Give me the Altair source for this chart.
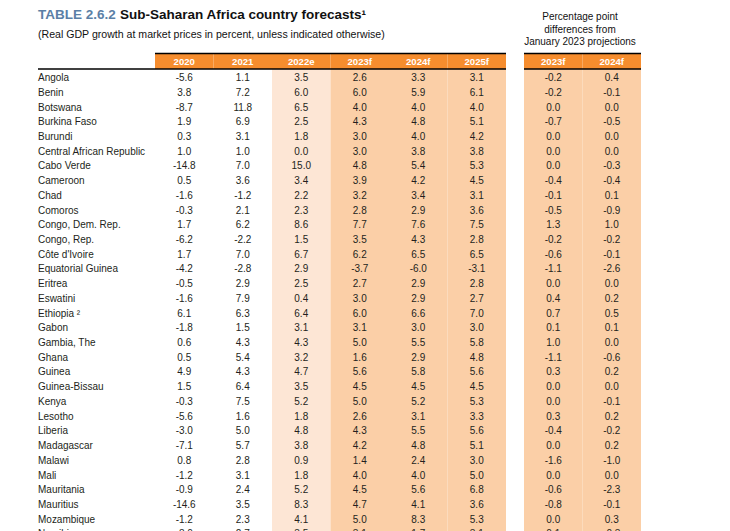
import altair as alt
import pandas as pd

countries = ["Angola", "Benin", "Botswana", "Burkina Faso", "Burundi",
             "Central African Republic", "Cabo Verde", "Cameroon", "Chad", "Comoros",
             "Congo, Dem. Rep.", "Congo, Rep.", "Côte d'Ivoire", "Equatorial Guinea",
             "Eritrea", "Eswatini", "Ethiopia ²", "Gabon", "Gambia, The", "Ghana",
             "Guinea", "Guinea-Bissau", "Kenya", "Lesotho", "Liberia", "Madagascar",
             "Malawi", "Mali", "Mauritania", "Mauritius", "Mozambique", "Namibia"]

v2020 = [-5.6, 3.8, -8.7, 1.9, 0.3, 1.0, -14.8, 0.5, -1.6, -0.3, 1.7, -6.2, 1.7, -4.2, -0.5, -1.6,
         6.1, -1.8, 0.6, 0.5, 4.9, 1.5, -0.3, -5.6, -3.0, -7.1, 0.8, -1.2, -0.9, -14.6, -1.2, -8.0]
v2021 = [1.1, 7.2, 11.8, 6.9, 3.1, 1.0, 7.0, 3.6, -1.2, 2.1, 6.2, -2.2, 7.0, -2.8, 2.9, 7.9,
         6.3, 1.5, 4.3, 5.4, 4.3, 6.4, 7.5, 1.6, 5.0, 5.7, 2.8, 3.1, 2.4, 3.5, 2.3, 2.7]
v2022e = [3.5, 6.0, 6.5, 2.5, 1.8, 0.0, 15.0, 3.4, 2.2, 2.3, 8.6, 1.5, 6.7, 2.9, 2.5, 0.4,
          6.4, 3.1, 4.3, 3.2, 4.7, 3.5, 5.2, 1.8, 4.8, 3.8, 0.9, 1.8, 5.2, 8.3, 4.1, 3.5]
v2023f = [2.6, 6.0, 4.0, 4.3, 3.0, 3.0, 4.8, 3.9, 3.2, 2.8, 7.7, 3.5, 6.2, -3.7, 2.7, 3.0,
          6.0, 3.1, 5.0, 1.6, 5.6, 4.5, 5.0, 2.6, 4.3, 4.2, 1.4, 4.0, 4.5, 4.7, 5.0, 3.1]
v2024f = [3.3, 5.9, 4.0, 4.8, 4.0, 3.8, 5.4, 4.2, 3.4, 2.9, 7.6, 4.3, 6.5, -6.0, 2.9, 2.9,
          6.6, 3.0, 5.5, 2.9, 5.8, 4.5, 5.2, 3.1, 5.5, 4.8, 2.4, 4.0, 5.6, 4.1, 8.3, 1.7]
v2025f = [3.1, 6.1, 4.0, 5.1, 4.2, 3.8, 5.3, 4.5, 3.1, 3.6, 7.5, 2.8, 6.5, -3.1, 2.8, 2.7,
          7.0, 3.0, 5.8, 4.8, 5.6, 4.5, 5.3, 3.3, 5.6, 5.1, 3.0, 5.0, 6.8, 3.6, 5.3, 3.1]
d2023f = [-0.2, -0.2, 0.0, -0.7, 0.0, 0.0, 0.0, -0.4, -0.1, -0.5, 1.3, -0.2, -0.6, -1.1, 0.0, 0.4,
          0.7, 0.1, 1.0, -1.1, 0.3, 0.0, 0.0, 0.3, -0.4, 0.0, -1.6, 0.0, -0.6, -0.8, 0.0, 0.1]
d2024f = [0.4, -0.1, 0.0, -0.5, 0.0, 0.0, -0.3, -0.4, 0.1, -0.9, 1.0, -0.2, -0.1, -2.6, 0.0, 0.2,
          0.5, 0.1, 0.0, -0.6, 0.2, 0.0, -0.1, 0.2, -0.2, 0.2, -1.0, 0.0, -2.3, -0.1, 0.3, -0.3]

left_cols = ["2020", "2021", "2022e", "2023f", "2024f", "2025f"]
left_vals = [v2020, v2021, v2022e, v2023f, v2024f, v2025f]
left_shade = {"2022e": "light", "2023f": "dark", "2024f": "dark", "2025f": "dark"}
right_cols = ["d2023f", "d2024f"]
right_labels = ["2023f", "2024f"]
right_vals = [d2023f, d2024f]

ORANGE = "#F68D2E"
LIGHT = "#FDE6D5"
DARK = "#FBCFA7"
TXT = "#231F20"
FONT = "Liberation Sans"
BAND = 14.72

rows = ["_hdr"] + countries
ys = alt.Scale(domain=rows, paddingInner=0, paddingOuter=0)
xs_left = alt.Scale(domain=["_name", "_name2"] + left_cols, paddingInner=0, paddingOuter=0)
xs_right = alt.Scale(domain=right_cols, paddingInner=0, paddingOuter=0)

HDR_SHIFT = -2.45   # header top sits a little above its band
HDR_BOT = 0.887
BG_SHIFT = -1.67


def fmt(v):
    return f"{v:.1f}"


def panel(cols, labels, vals, shade, xs, with_names):
    cells = pd.DataFrame([
        {"col": c, "row": r, "txt": fmt(v)}
        for c, vs in zip(cols, vals) for r, v in zip(countries, vs)
    ])
    bg = pd.DataFrame([
        {"col": c, "shade": shade[c], "r0": countries[0], "r1": countries[-1]}
        for c in cols if c in shade
    ])
    hdr = pd.DataFrame({"col": cols, "label": labels, "row": "_hdr"})
    line = pd.DataFrame({"col": [cols[0]], "row": ["_hdr"]})

    layers = []
    layers.append(alt.Chart(bg).mark_rect(yOffset=BG_SHIFT).encode(
        x=alt.X("col:N", scale=xs, axis=None),
        y=alt.Y("r0:N", scale=ys, axis=None, bandPosition=0),
        y2=alt.Y2("r1:N", bandPosition=1),
        color=alt.Color("shade:N", scale=alt.Scale(domain=["light", "dark"], range=[LIGHT, DARK]), legend=None),
    ))
    layers.append(alt.Chart(hdr).mark_rect(color=ORANGE, yOffset=HDR_SHIFT).encode(
        x=alt.X("col:N", scale=xs, axis=None),
        y=alt.Y("row:N", scale=ys, axis=None, bandPosition=0),
        y2=alt.Y2("row:N", bandPosition=HDR_BOT),
    ))
    layers.append(alt.Chart(hdr).mark_text(font=FONT, fontSize=9.6, fontWeight="bold", color="white",
                                           baseline="middle").encode(
        x=alt.X("col:N", scale=xs, axis=None),
        y=alt.Y("row:N", scale=ys, axis=None, bandPosition=0.43),
        text="label:N",
    ))
    layers.append(alt.Chart(line).mark_rule(color="black", strokeWidth=1.5, yOffset=HDR_SHIFT).encode(
        x=alt.X("col:N", scale=xs, axis=None, bandPosition=0),
        x2=alt.value("width"),
        y=alt.Y("row:N", scale=ys, axis=None, bandPosition=0),
    ))
    layers.append(alt.Chart(line).mark_rule(color="black", strokeWidth=1.5).encode(
        x=alt.value(0),
        x2=alt.value("width"),
        y=alt.Y("row:N", scale=ys, axis=None, bandPosition=HDR_BOT),
    ))
    if with_names:
        names = pd.DataFrame({"row": countries, "col": "_name"})
        layers.append(alt.Chart(names).mark_text(font=FONT, fontSize=10, color=TXT, align="left",
                                                 baseline="middle").encode(
            x=alt.X("col:N", scale=xs, axis=None, bandPosition=0),
            y=alt.Y("row:N", scale=ys, axis=None),
            text="row:N",
        ))
    layers.append(alt.Chart(cells).mark_text(font=FONT, fontSize=10, color=TXT,
                                             baseline="middle").encode(
        x=alt.X("col:N", scale=xs, axis=None),
        y=alt.Y("row:N", scale=ys, axis=None),
        text="txt:N",
    ))
    return layers


left_layers = panel(left_cols, left_cols, left_vals, left_shade, xs_left, True)
left_layers.append(alt.Chart().mark_text(font=FONT, fontSize=13.5, fontWeight="bold", color="#5B7FA6",
                                         align="left", baseline="alphabetic").encode(
    x=alt.value(0), y=alt.value(-37), text=alt.value("TABLE 2.6.2")))
left_layers.append(alt.Chart().mark_text(font=FONT, fontSize=13.5, fontWeight="bold", color="#111111",
                                         align="left", baseline="alphabetic").encode(
    x=alt.value(82), y=alt.value(-37), text=alt.value("Sub-Saharan Africa country forecasts¹")))
left_layers.append(alt.Chart().mark_text(font=FONT, fontSize=10.6, color="#111111",
                                         align="left", baseline="alphabetic").encode(
    x=alt.value(0), y=alt.value(-18),
    text=alt.value("(Real GDP growth at market prices in percent, unless indicated otherwise)")))

right_shade = {"d2023f": "dark", "d2024f": "dark"}
right_layers = panel(right_cols, right_labels, right_vals, right_shade, xs_right, False)
right_layers.append(alt.Chart().mark_text(font=FONT, fontSize=10, color="#111111", align="center",
                                          baseline="alphabetic", lineHeight=12.3).encode(
    x=alt.value(56), y=alt.value(-35.5),
    text=alt.value(["Percentage point", "differences from", "January 2023 projections"])))

H = BAND * len(rows)
left = alt.layer(*left_layers).properties(width=468, height=H)
right = alt.layer(*right_layers).properties(width=117, height=H)

chart = alt.hconcat(left, right, spacing=16).properties(
    padding={"left": 29, "top": 0, "right": 0, "bottom": 0}
).configure_view(stroke=None)

chart.save("out.html", embed_options={"renderer": "svg", "actions": False})
